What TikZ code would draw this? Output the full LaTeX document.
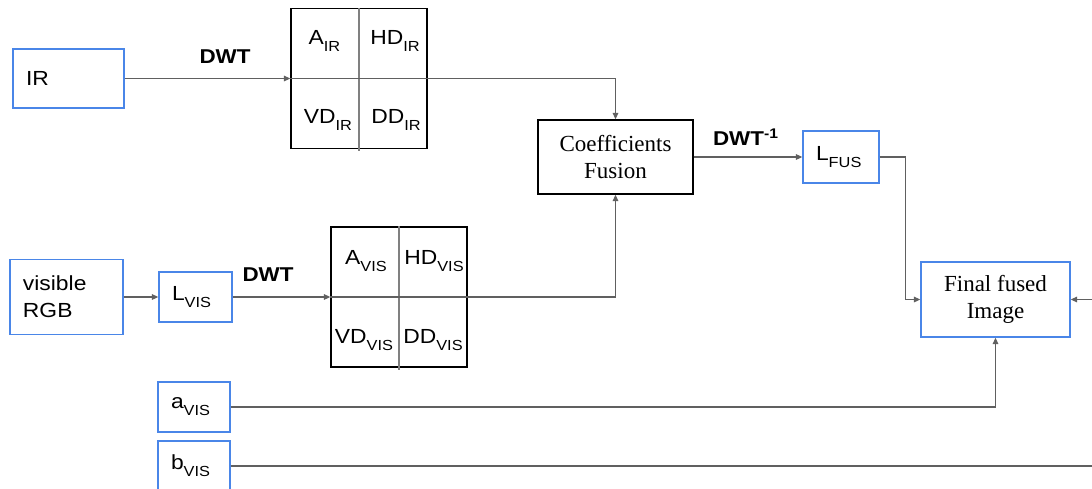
\documentclass[tikz,border=0pt]{standalone}
\usepackage{fontspec}
\setmainfont{Liberation Serif}
\setsansfont{Liberation Sans}[FakeStretch=1.12]
\definecolor{gblue}{RGB}{74,134,232}
\definecolor{ggray}{RGB}{96,96,96}
\definecolor{gdiv}{RGB}{128,128,128}
\usetikzlibrary{arrows.meta,positioning}
\newcommand{\lowtxt}[1]{\raisebox{-3.5pt}{\fontsize{7.3}{7.3}\selectfont #1}}

\begin{document}
\begin{tikzpicture}[x=0.5pt,y=-0.5pt,
  src/.style={draw=gblue,line width=0.7pt,inner xsep=6.5pt,inner ysep=0pt,align=left,font=\sffamily\fontsize{10.2}{13.5}\selectfont},
  res/.style={draw=gblue,line width=0.7pt,inner sep=0pt,align=center,font=\fontsize{11.5}{13.5}\selectfont},
  fusbox/.style={draw,line width=0.7pt,inner sep=0pt,align=center,font=\fontsize{11.5}{13.5}\selectfont},
  grid/.style={draw,line width=0.7pt,minimum width=68pt,minimum height=70pt,inner sep=0pt},
  coef/.style={font=\sffamily\fontsize{10.2}{12}\selectfont,inner sep=0pt},
  lbl/.style={font=\sffamily\bfseries\fontsize{10}{12}\selectfont,inner sep=0pt},
  div/.style={gdiv,line width=0.6pt},
  edge/.style={-{Triangle[length=3.2pt,width=2.8pt]},ggray,line width=0.6pt},
  line/.style={ggray,line width=0.6pt}]
  \useasboundingbox (0,0) rectangle (1092,488);
  % IR branch
  \node[src,text width=42.5pt,minimum height=29.5pt] (ir) at (68.5,78.5) {IR};
  \node[grid] (irgrid) at (359,78.5) {};
  \draw[div] (irgrid.north) -- ([yshift=-1pt]irgrid.south);
  \node[coef] (air) at (324.5,41) {A\lowtxt{IR}};
  \node[coef] (hdir) at (395,41) {HD\lowtxt{IR}};
  \node[coef] (vdir) at (328,120) {VD\lowtxt{IR}};
  \node[coef] (ddir) at (396,120) {DD\lowtxt{IR}};
  \node[lbl] (dwtir) at (225,57) {DWT};
  \draw[edge] (ir.east) -- (irgrid.west);
  % visible branch
  \node[src,text width=43.5pt,minimum height=37.5pt] (vis) at (66.5,297) {visible\\RGB};
  \node[src,text width=23.5pt,minimum height=25pt] (lvis) at (195.5,297) {L\lowtxt{VIS}};
  \node[grid] (visgrid) at (399,297) {};
  \draw[div] (visgrid.north) -- ([yshift=-1pt]visgrid.south);
  \node[coef] (avis) at (366,261) {A\lowtxt{VIS}};
  \node[coef] (hdvis) at (434,261) {HD\lowtxt{VIS}};
  \node[coef] (vdvis) at (364,340) {VD\lowtxt{VIS}};
  \node[coef] (ddvis) at (433,340) {DD\lowtxt{VIS}};
  \node[lbl] (dwtvis) at (268,275) {DWT};
  \draw[edge] (vis.east) -- (lvis.west);
  \draw[edge] (lvis.east) -- (visgrid.west);
  % fusion
  \node[fusbox,minimum width=77.5pt,minimum height=37pt] (fus) at (615.5,157) {Coefficients\\Fusion};
  \draw[edge] (irgrid.west) -| (fus.north);
  \draw[edge] (visgrid.west) -| (fus.south);
  \node[lbl] (dwtinv) at (746,137) {DWT\textsuperscript{-1}};
  \node[src,text width=25pt,minimum height=26pt] (lfus) at (841,157) {L\lowtxt{FUS}};
  \draw[edge] (fus.east) -- (lfus.west);
  % final image
  \node[res,minimum width=74.5pt,minimum height=37.5pt] (final) at (995.5,299.5) {Final fused\\Image};
  \draw[edge] (lfus.east) -- ++(26,0) |- (final.west);
  \coordinate (rin) at (1092,299.5);
  \draw[edge] (rin) -- (final.east);
  % chroma channels
  \node[src,text width=23pt,minimum height=25pt] (achan) at (194,407) {a\lowtxt{VIS}};
  \node[src,text width=23pt,minimum height=25pt] (bchan) at (194,466) {b\lowtxt{VIS}};
  \draw[edge] (achan.east) -| (final.south);
  \coordinate (bout) at (1092,466);
  \draw[line] (bchan.east) -- (bout);
\end{tikzpicture}
\end{document}
